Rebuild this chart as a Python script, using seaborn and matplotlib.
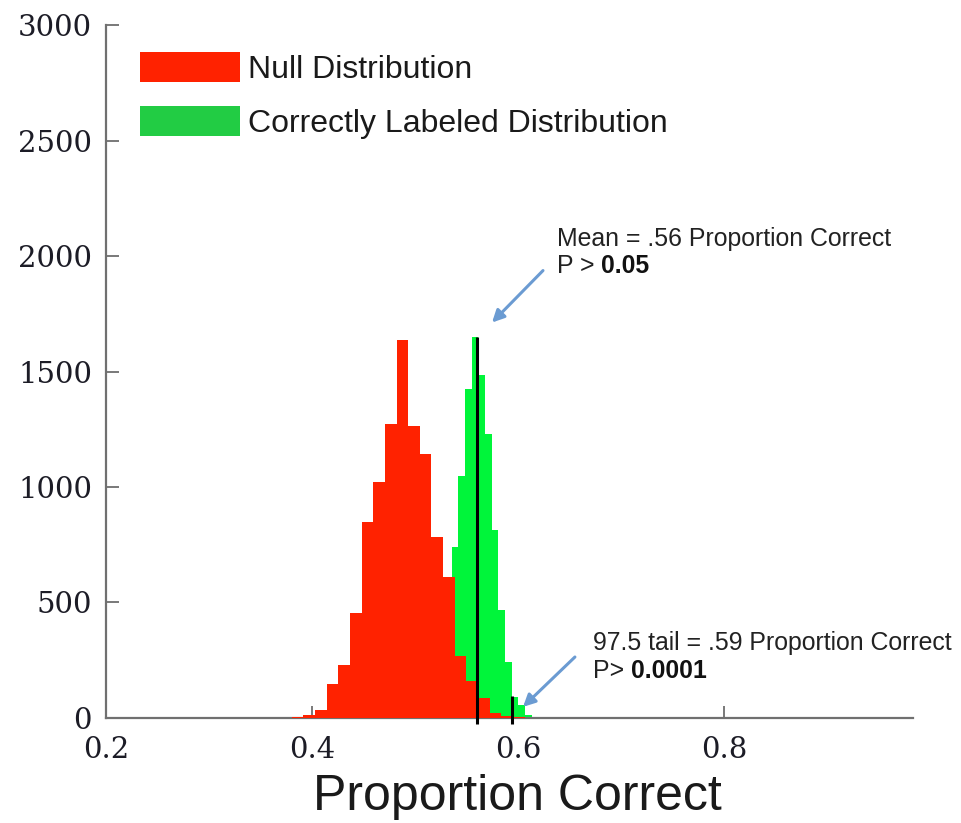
import matplotlib
matplotlib.use("Agg")
import numpy as np
import pandas as pd
import matplotlib.pyplot as plt
import seaborn as sns
from matplotlib.patches import Patch

# ---------------- data ----------------
null_bin_edges = [0.3803, 0.3916, 0.4029, 0.4142, 0.4255, 0.4369, 0.4482, 0.4595,
                  0.4708, 0.4821, 0.4934, 0.5047, 0.5160, 0.5273, 0.5386, 0.5500,
                  0.5613, 0.5726, 0.5839, 0.5952, 0.6065]
null_counts = [5, 13, 35, 147, 230, 456, 848, 1022, 1274, 1635, 1263, 1144,
               783, 612, 270, 160, 85, 22, 10, 3]

labeled_bin_edges = [0.5356, 0.5421, 0.5485, 0.5550, 0.5615, 0.5679, 0.5744,
                     0.5809, 0.5874, 0.5938, 0.6003, 0.6068, 0.6132]
labeled_counts = [742, 1049, 1425, 1650, 1487, 1231, 812, 468, 244, 90, 56, 13]

mean_value = 0.56
mean_line_top = 1650
tail_value = 0.594
tail_line_top = 95

x_ticks = [0.2, 0.4, 0.6, 0.8]
x_tick_labels = ["0.2", "0.4", "0.6", "0.8"]
y_ticks = [0, 500, 1000, 1500, 2000, 2500, 3000]
y_tick_labels = ["0", "500", "1000", "1500", "2000", "2500", "3000"]

legend_labels = ["Null Distribution", "Correctly Labeled Distribution"]
x_label = "Proportion Correct"
mean_text = "Mean = .56 Proportion Correct"
mean_p_plain, mean_p_bold = "P > ", "0.05"
tail_text = "97.5 tail = .59 Proportion Correct"
tail_p_plain, tail_p_bold = "P> ", "0.0001"

# ---------------- style ----------------
sns.set_theme(style="white")
plt.rcParams["font.family"] = ["Liberation Sans", "DejaVu Sans"]

RED = "#ff2200"
GREEN = "#00f53a"
GREEN_LEG = "#22cc44"
ARROW = "#6b9bd2"

null_df = pd.DataFrame({
    "x": [(a + b) / 2 for a, b in zip(null_bin_edges[:-1], null_bin_edges[1:])],
    "w": null_counts})
lab_df = pd.DataFrame({
    "x": [(a + b) / 2 for a, b in zip(labeled_bin_edges[:-1], labeled_bin_edges[1:])],
    "w": labeled_counts})

fig = plt.figure(figsize=(9.61, 8.23), dpi=100)
ax = fig.add_axes([0.1103, 0.1276, 0.8397, 0.842])

sns.histplot(data=lab_df, x="x", weights="w", bins=labeled_bin_edges, ax=ax,
             color=GREEN, alpha=1, linewidth=0, element="bars", zorder=2)
sns.histplot(data=null_df, x="x", weights="w", bins=null_bin_edges, ax=ax,
             color=RED, alpha=1, linewidth=0, element="bars", zorder=3)

# vertical reference lines
ax.plot([mean_value, mean_value], [-25, mean_line_top], color="black", lw=2.2,
        zorder=5, clip_on=False, solid_capstyle="butt")
ax.plot([tail_value, tail_value], [-25, tail_line_top], color="black", lw=2.2,
        zorder=5, clip_on=False, solid_capstyle="butt")

ax.set_xlim(0.2, 0.9835)
ax.set_ylim(0, 3000)
ax.set_xticks(x_ticks)
ax.set_xticklabels(x_tick_labels)
ax.set_yticks(y_ticks)
ax.set_yticklabels(y_tick_labels)
ax.set_ylabel("")
ax.set_xlabel(x_label, fontsize=36, color="#1a1a1a", labelpad=7)
ax.xaxis.label.set_x(0.51)

for lab in ax.get_xticklabels() + ax.get_yticklabels():
    lab.set_fontfamily("DejaVu Serif")
    lab.set_fontsize(21)
    lab.set_color("#1c1c26")

ax.tick_params(axis="both", direction="in", length=9, width=1.1, color="#555555")
ax.tick_params(axis="x", pad=13, bottom=True)
ax.tick_params(axis="y", pad=10, left=True)

for s in ["top", "right"]:
    ax.spines[s].set_visible(False)
for s in ["left", "bottom"]:
    ax.spines[s].set_color("#707070")
    ax.spines[s].set_linewidth(1.6)
ax.grid(False)

# legend
handles = [Patch(facecolor=RED, edgecolor="none"),
           Patch(facecolor=GREEN_LEG, edgecolor="none")]
leg = ax.legend(handles, legend_labels, loc="upper left",
                bbox_to_anchor=(0.042, 0.961), borderaxespad=0, borderpad=0,
                frameon=False, fontsize=23, handlelength=3.13,
                handleheight=1.07, handletextpad=0.25, labelspacing=0.66)
for t in leg.get_texts():
    t.set_color("#1a1a1a")

# annotations
def two_part(x, y, plain, bold, size):
    t = ax.text(x, y, plain, fontsize=size, color="#222222", va="baseline",
                ha="left", zorder=6)
    ax.annotate(bold, xy=(1, 0), xycoords=t, fontsize=size, fontweight="bold",
                color="#111111", va="bottom", ha="left", zorder=6)

ax.text(0.6379, 2043, mean_text, fontsize=17.9, color="#222222", va="baseline",
        ha="left", zorder=6)
two_part(0.6379, 1926, mean_p_plain, mean_p_bold, 17.9)
ax.text(0.6728, 294, tail_text, fontsize=17.9, color="#222222", va="baseline",
        ha="left", zorder=6)
two_part(0.6728, 173, tail_p_plain, tail_p_bold, 17.9)

ax.annotate("", xy=(0.5748, 1712), xytext=(0.6243, 1937),
            arrowprops=dict(arrowstyle="-|>", color=ARROW, lw=2.2,
                            mutation_scale=18, shrinkA=0, shrinkB=0), zorder=6)
ax.annotate("", xy=(0.6049, 48), xytext=(0.6553, 264),
            arrowprops=dict(arrowstyle="-|>", color=ARROW, lw=2.2,
                            mutation_scale=18, shrinkA=0, shrinkB=0), zorder=6)

fig.savefig("out.png", dpi=100)
